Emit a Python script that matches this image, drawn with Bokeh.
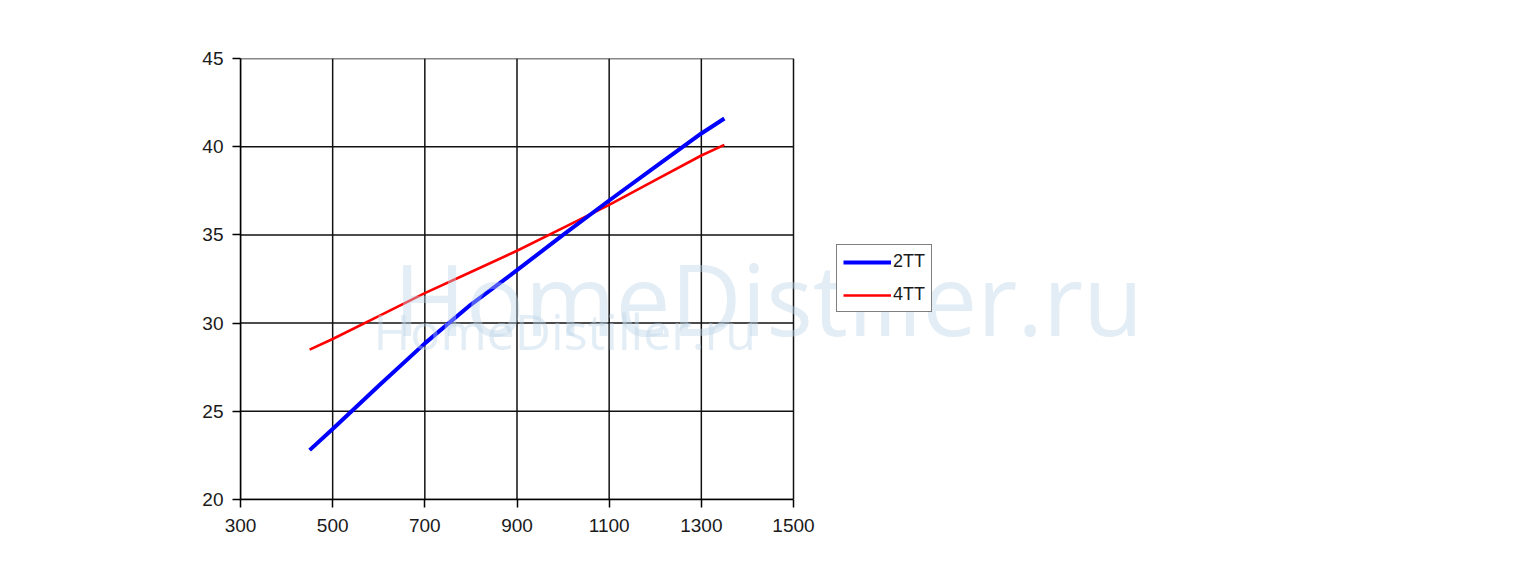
from bokeh.plotting import figure
from bokeh.models import Range1d, Legend, LegendItem, Label, FixedTicker
from bokeh.embed import file_html
from bokeh.resources import INLINE

# data
x_vals = [450, 500, 600, 700, 800, 900, 1000, 1100, 1200, 1300, 1350]
tt2 = [22.8, 24.0, 26.45, 28.85, 31.05, 33.0, 35.0, 36.95, 38.85, 40.75, 41.6]
tt4 = [28.5, 29.1, 30.4, 31.7, 32.9, 34.1, 35.4, 36.7, 38.1, 39.5, 40.1]
x_ticks = [300, 500, 700, 900, 1100, 1300, 1500]
y_ticks = [20, 25, 30, 35, 40, 45]
series_names = ["2TT", "4TT"]
watermark = "HomeDistiller.ru"

# layout geometry (pixels)
W, H = 1509, 569
LEFT, TOP, BOTTOM_Y = 240, 58, 499
AXIS_RIGHT_PX = 793
FRAME_RIGHT = 1499
px_per_x = (AXIS_RIGHT_PX - LEFT) / (x_ticks[-1] - x_ticks[0])
px_per_y = (BOTTOM_Y - TOP) / (y_ticks[-1] - y_ticks[0])
x_end = x_ticks[0] + (FRAME_RIGHT - LEFT) / px_per_x


def dx(px):
    return x_ticks[0] + (px - LEFT) / px_per_x


def dy(py):
    return y_ticks[-1] - (py - TOP) / px_per_y


p = figure(width=W, height=H, output_backend="svg", toolbar_location=None,
           x_range=Range1d(x_ticks[0], x_end), y_range=Range1d(y_ticks[0], y_ticks[-1]),
           min_border_left=LEFT, min_border_right=W - FRAME_RIGHT, min_border_top=TOP,
           min_border_bottom=H - BOTTOM_Y)
p.background_fill_color = "white"
p.border_fill_color = "white"
p.outline_line_color = None
p.xgrid.visible = False
p.ygrid.visible = False

for ax in (p.xaxis[0], p.yaxis[0]):
    ax.axis_line_color = "black"
    ax.axis_line_width = 1.5
    ax.major_tick_line_color = "black"
    ax.major_tick_line_width = 1.5
    ax.major_tick_in = 0
    ax.major_tick_out = 8
    ax.minor_tick_line_color = None
    ax.major_label_text_font = "Liberation Sans"
    ax.major_label_text_font_size = "19px"
    ax.major_label_text_color = "#1a1a1a"

p.xaxis[0].ticker = FixedTicker(ticks=x_ticks)
p.xaxis[0].bounds = (x_ticks[0], x_ticks[-1])
p.yaxis[0].ticker = FixedTicker(ticks=y_ticks)
p.xaxis[0].major_label_standoff = 11
p.yaxis[0].major_label_standoff = 9

# grid lines and plot-area border (limited to the axis extent)
p.segment(x0=x_ticks, y0=[y_ticks[0]] * len(x_ticks), x1=x_ticks,
          y1=[y_ticks[-1]] * len(x_ticks), line_color="#111111", line_width=1.5)
p.segment(x0=[x_ticks[0]] * len(y_ticks), y0=y_ticks, x1=[x_ticks[-1]] * len(y_ticks),
          y1=y_ticks, line_color="#111111", line_width=1.5)

r4 = p.line(x_vals, tt4, line_color="#ff0000", line_width=2.6)
r2 = p.line(x_vals, tt2, line_color="#0000ff", line_width=4)

# watermark
big_fs, small_fs = 98, 50
big = Label(x=dx(393), y=dy(343 - 0.46 * big_fs), text=watermark, text_font="Open Sans",
            text_font_size=f"{big_fs}px", text_color="#bcd3e8", text_alpha=0.42,
            text_baseline="alphabetic")
small = Label(x=dx(373), y=dy(353 - 0.46 * small_fs), text=watermark, text_font="Open Sans",
              text_font_size=f"{small_fs}px", text_color="#bcd3e8", text_alpha=0.42,
              text_baseline="alphabetic")
p.add_layout(big)
p.add_layout(small)

legend = Legend(items=[LegendItem(label=series_names[0], renderers=[r2]),
                       LegendItem(label=series_names[1], renderers=[r4])],
                location=(836 - LEFT, BOTTOM_Y - 312))
legend.border_line_color = "black"
legend.border_line_width = 1
legend.background_fill_color = "white"
legend.background_fill_alpha = 1.0
legend.label_text_font = "Liberation Sans"
legend.label_text_font_size = "18px"
legend.label_text_color = "#1a1a1a"
legend.glyph_width = 48
legend.glyph_height = 20
legend.label_height = 20
legend.label_standoff = 2
legend.spacing = 12
legend.padding = 6
legend.margin = 0
p.add_layout(legend, "center")

open("out.html", "w").write(file_html(p, INLINE))
